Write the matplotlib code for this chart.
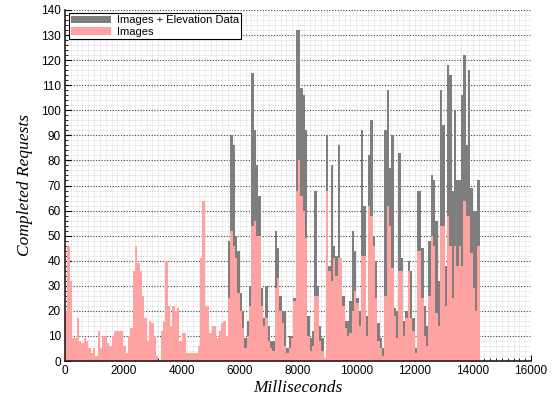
"""Completed requests per time bin: images vs images + elevation data."""

import matplotlib

matplotlib.use("Agg")
import matplotlib.pyplot as plt
import numpy as np
from matplotlib.ticker import MultipleLocator

BIN_MS = 80

# requests completed per 80 ms bin, images only
images = [
    20, 46, 32, 9, 9, 17, 8, 7, 9, 8, 5, 3, 5, 2, 12, 5, 10, 10, 7, 6,
    10, 12, 12, 12, 12, 6, 3, 10, 13, 36, 46, 39, 36, 26, 17, 8, 16, 15, 10, 2,
    0, 12, 16, 40, 22, 14, 22, 20, 21, 8, 11, 11, 3, 3, 3, 3, 3, 6, 41, 64,
    22, 22, 11, 14, 14, 9, 12, 15, 16, 10, 25, 52, 46, 41, 27, 20, 13, 5, 10, 22,
    54, 56, 50, 50, 22, 14, 17, 8, 5, 4, 29, 33, 20, 15, 6, 3, 5, 9, 24, 68,
    80, 66, 60, 49, 10, 4, 6, 26, 26, 8, 4, 1, 68, 36, 32, 41, 34, 41, 41, 22,
    13, 10, 11, 20, 28, 23, 14, 42, 42, 10, 62, 58, 46, 25, 8, 5, 2, 26, 62, 54,
    37, 18, 9, 36, 36, 10, 17, 36, 17, 12, 3, 44, 44, 25, 10, 6, 26, 50, 46, 19,
    14, 54, 54, 22, 58, 46, 25, 46, 38, 46, 38, 64, 58, 58, 43, 29, 20, 46,
]

# requests completed per 80 ms bin, images + elevation data
images_elev = [
    20, 46, 32, 9, 9, 17, 8, 7, 9, 8, 5, 3, 5, 2, 12, 5, 10, 10, 7, 6,
    10, 12, 12, 12, 12, 6, 3, 10, 13, 36, 46, 39, 36, 26, 17, 8, 16, 15, 10, 2,
    0, 12, 16, 40, 22, 14, 22, 20, 21, 8, 11, 11, 3, 3, 3, 3, 3, 6, 41, 64,
    22, 22, 11, 14, 14, 9, 12, 15, 16, 10, 48, 90, 86, 50, 44, 27, 20, 9, 16, 30,
    115, 92, 78, 66, 29, 17, 30, 14, 8, 8, 52, 45, 26, 20, 20, 5, 10, 10, 25, 132,
    132, 109, 106, 92, 18, 9, 12, 68, 30, 14, 9, 1, 90, 38, 78, 46, 42, 86, 41, 26,
    16, 16, 24, 52, 44, 25, 20, 92, 62, 18, 82, 96, 50, 40, 15, 9, 5, 92, 108, 77,
    90, 21, 20, 83, 41, 16, 20, 40, 36, 17, 5, 68, 68, 45, 22, 14, 48, 74, 72, 56,
    32, 108, 94, 38, 118, 114, 68, 100, 72, 72, 106, 122, 86, 116, 69, 60, 60, 72,
]

x_ticks = [0, 2000, 4000, 6000, 8000, 10000, 12000, 14000, 16000]
y_ticks = list(range(0, 141, 10))

edges = np.arange(len(images)) * BIN_MS

fig = plt.figure(figsize=(5.59, 3.99), dpi=100)
ax = fig.add_axes([65 / 559, 38 / 399, 466 / 559, 351 / 399])

ax.bar(edges, images_elev, width=BIN_MS, align="edge", color="#7e7e7e",
       linewidth=0, label="Images + Elevation Data")
ax.bar(edges, images, width=BIN_MS, align="edge", color="#ffa2a2",
       linewidth=0, label="Images")

ax.set_xlim(0, 16000)
ax.set_ylim(0, 140)
ax.set_xticks(x_ticks)
ax.set_yticks(y_ticks)
ax.xaxis.set_minor_locator(MultipleLocator(200))
ax.yaxis.set_minor_locator(MultipleLocator(2))

ax.set_axisbelow(True)
ax.grid(which="minor", color="#cfcfcf", linestyle=(0, (1, 1)), linewidth=0.5)
ax.grid(which="major", axis="x", color="#cfcfcf", linestyle=(0, (1, 1)), linewidth=0.5)
ax.grid(which="major", axis="y", color="#404040", linestyle=(0, (1, 1.5)), linewidth=0.8)

for side in ("top", "right"):
    ax.spines[side].set_visible(False)
for side in ("left", "bottom"):
    ax.spines[side].set_color("#2a1a1a")
    ax.spines[side].set_linewidth(1.2)

ax.tick_params(which="major", direction="in", length=4, labelsize=8.5,
               labelfontfamily="Liberation Sans", pad=3)
ax.tick_params(which="minor", direction="in", length=2)

ax.set_xlabel("Milliseconds", fontfamily="Liberation Serif", style="italic",
              fontsize=12.5, labelpad=2)
ax.set_ylabel("Completed Requests", fontfamily="Liberation Serif", style="italic",
              fontsize=12.5, labelpad=6)

leg = ax.legend(loc="upper left", bbox_to_anchor=(0.004, 0.997), fancybox=False,
                framealpha=1, edgecolor="black", handlelength=3.6, handleheight=0.7,
                borderpad=0.2, labelspacing=0.12, handletextpad=0.5,
                borderaxespad=0.2,
                prop={"family": "Liberation Sans", "size": 8})
leg.get_frame().set_linewidth(0.8)

fig.savefig("out.png", dpi=100)
plt.close(fig)
